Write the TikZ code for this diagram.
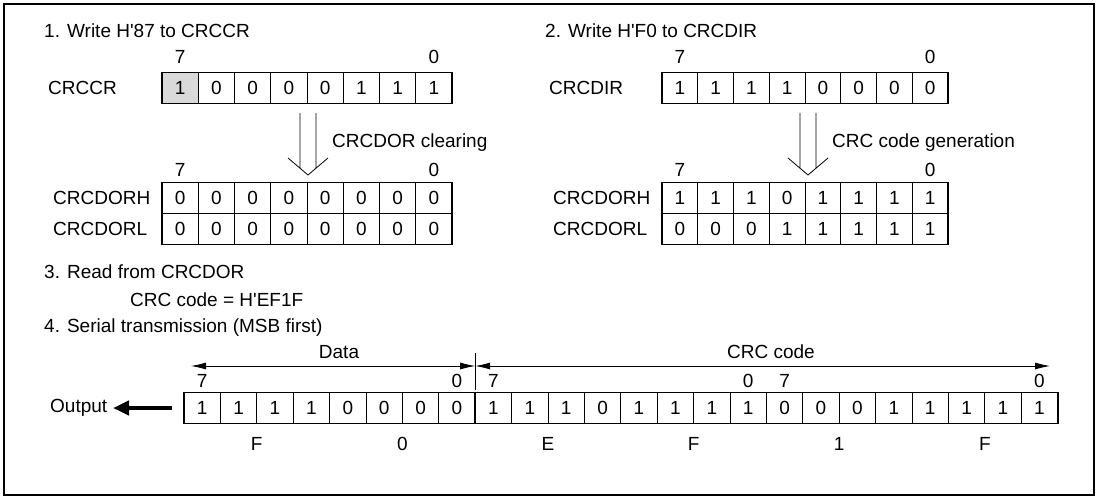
\documentclass[tikz,border=0pt]{standalone}
\usepackage{fontspec}
\setmainfont{Liberation Sans}
\usetikzlibrary{arrows.meta,calc}
\tikzset{
  cell/.style={draw, line width=0.7pt, minimum width=#1, minimum height=31pt, inner sep=0pt, outer sep=0pt},
  cell/.default=36pt,
  lbl/.style={anchor=west, inner sep=0pt},
  bitno/.style={inner sep=0pt},
  reg/.style={line width=1.8pt},
  hollow/.style={line width=0.8pt},
  dimarrow/.style={line width=0.8pt, {Latex[length=15pt,width=7pt]}-{Latex[length=15pt,width=7pt]}},
}
\newcommand\regrow[5]{% name, x0, cellwidth, ycenter, values
  \foreach \v [count=\i from 0] in {#5} {
    \node[cell=#3pt] (#1-\i) at ({#2+(\i+0.5)*#3},#4) {\v};
  }
}
\newcommand\q{\textquotesingle}
\begin{document}
\begin{tikzpicture}[x=1pt,y=-1pt,font=\fontsize{19}{22}\selectfont]
\useasboundingbox (0,0) rectangle (1098,499);
\draw[line width=1.8pt] (4,4) rectangle (1094,495);

% ---------- 1 ----------
\node[lbl] (t1) at (44,31) {1. Write H\q87 to CRCCR};
\fill[gray!30] (162,72.5) rectangle ++(36.25,31);
\node[lbl] (lccr) at (48,88) {CRCCR};
\regrow{ccr}{162}{36.25}{88}{1,0,0,0,0,1,1,1}
\draw[reg] (ccr-0.north west) rectangle (ccr-7.south east);
\node[bitno] (ccr7) at ([yshift=31pt]ccr-0.center) {7};
\node[bitno] (ccr0) at ([yshift=31pt]ccr-7.center) {0};

\coordinate (a1) at (308,175);
\draw[hollow] (300,113) -- (300,168.2) (316,113) -- (316,168.2)
  (288,158) -- (a1) -- (328,158);
\node[lbl] (clr) at (332,143) {CRCDOR clearing};

\node[lbl] (ldh1) at (53,198) {CRCDORH};
\node[lbl] (ldl1) at (53,229) {CRCDORL};
\regrow{dh1}{162}{36.25}{198}{0,0,0,0,0,0,0,0}
\regrow{dl1}{162}{36.25}{229}{0,0,0,0,0,0,0,0}
\draw[reg] (dh1-0.north west) rectangle (dl1-7.south east);
\draw[reg] (dh1-0.south west) -- (dh1-7.south east);
\node[bitno] (dh17) at ([yshift=28pt]dh1-0.center) {7};
\node[bitno] (dh10) at ([yshift=28pt]dh1-7.center) {0};

% ---------- 2 ----------
\node[lbl] (t2) at (545,31) {2. Write H\q F0 to CRCDIR};
\node[lbl] (ldir) at (549,88) {CRCDIR};
\regrow{dir}{662}{35.75}{88}{1,1,1,1,0,0,0,0}
\draw[reg] (dir-0.north west) rectangle (dir-7.south east);
\node[bitno] (dir7) at ([yshift=31pt]dir-0.center) {7};
\node[bitno] (dir0) at ([yshift=31pt]dir-7.center) {0};

\coordinate (a2) at (808,175);
\draw[hollow] (800,113) -- (800,168.2) (816,113) -- (816,168.2)
  (788,158) -- (a2) -- (828,158);
\node[lbl] (gen) at (832,143) {CRC code generation};

\node[lbl] (ldh2) at (553,198) {CRCDORH};
\node[lbl] (ldl2) at (553,229) {CRCDORL};
\regrow{dh2}{662}{35.75}{198}{1,1,1,0,1,1,1,1}
\regrow{dl2}{662}{35.75}{229}{0,0,0,1,1,1,1,1}
\draw[reg] (dh2-0.north west) rectangle (dl2-7.south east);
\draw[reg] (dh2-0.south west) -- (dh2-7.south east);
\node[bitno] (dh27) at ([yshift=28pt]dh2-0.center) {7};
\node[bitno] (dh20) at ([yshift=28pt]dh2-7.center) {0};

% ---------- 3 ----------
\node[lbl] (t3) at (44,272) {3. Read from CRCDOR};
\node[lbl] (crc) at (130,300) {CRC code = H\q EF1F};

% ---------- 4 ----------
\node[lbl] (t4) at (44,328) {4. Serial transmission (MSB first)};
\regrow{s}{184}{36.4}{408}{1,1,1,1,0,0,0,0,1,1,1,0,1,1,1,1,0,0,0,1,1,1,{\raisebox{-4pt}{1}},1}
\draw[reg] (s-0.north west) rectangle (s-23.south east);
\draw[reg] (s-7.north east) -- (s-7.south east);
\draw[reg] (s-15.north east) -- (s-15.south east);
\foreach \c in {0,8,16} \node[bitno] at ([yshift=27pt]s-\c.center) {7};
\foreach \c in {7,15,23} \node[bitno] at ([yshift=27pt]s-\c.center) {0};

\coordinate (tickt) at ([yshift=40pt]s-7.north east);
\coordinate (tickb) at ([yshift=3pt]s-7.north east);
\draw[line width=0.7pt] (tickt) -- (tickb);
\coordinate (dL) at (191,366);
\coordinate (dR) at ([yshift=26.5pt]s-7.north east);
\coordinate (cR) at (1050,366);
\draw[dimarrow] (dL) -- (dR);
\draw[dimarrow] (dR) -- (cR);
\node[bitno] (data) at (339,352) {Data};
\node[bitno] (crccode) at (771,352) {CRC code};

\node[lbl] (out) at (50,408) {Output};
\coordinate (outtail) at (172,408);
\draw[line width=4pt, -{Triangle[length=16pt,width=14pt]}] (outtail) -- (113,408);

\foreach \a/\b/\t in {1/2/F,5/6/0,9/10/E,13/14/F,17/18/1,21/22/F}
  \node[bitno] at ($(s-\a.center)!0.5!(s-\b.center)+(0,36)$) {\t};
\end{tikzpicture}
\end{document}
